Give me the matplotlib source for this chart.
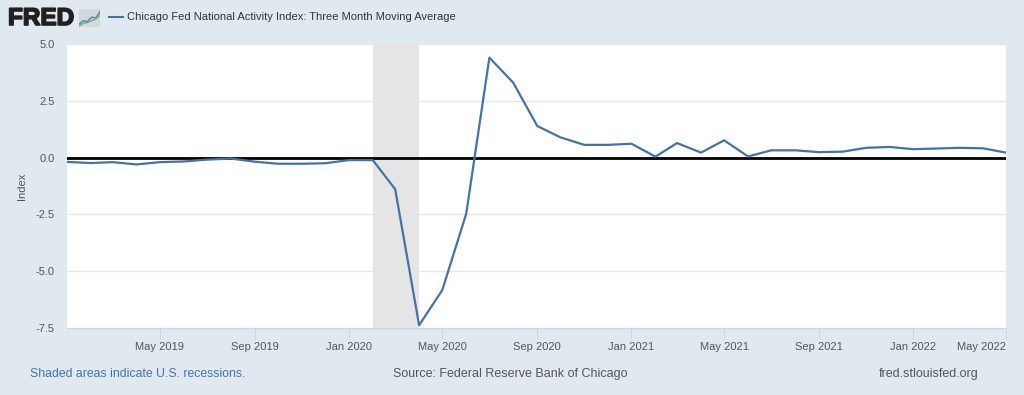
import numpy as np
import matplotlib.pyplot as plt
import matplotlib.dates as mdates
import matplotlib.patheffects as pe
from datetime import date

plt.rcParams['font.family'] = ['Liberation Sans', 'DejaVu Sans']

# monthly data, Jan 2019 .. May 2022
start_year, start_month = 2019, 1
values = [-0.19, -0.24, -0.20, -0.30, -0.20, -0.17, -0.09, -0.04, -0.18, -0.27,
          -0.27, -0.25, -0.11, -0.11, -1.39, -7.38, -5.83, -2.47, 4.40, 3.29,
          1.39, 0.89, 0.56, 0.56, 0.61, 0.04, 0.64, 0.22, 0.76, 0.05,
          0.32, 0.32, 0.24, 0.26, 0.43, 0.47, 0.37, 0.40, 0.43, 0.41, 0.22]
recession = (date(2020, 2, 1), date(2020, 4, 1))
tick_dates = [date(2019, 5, 1), date(2019, 9, 1), date(2020, 1, 1), date(2020, 5, 1),
              date(2020, 9, 1), date(2021, 1, 1), date(2021, 5, 1), date(2021, 9, 1),
              date(2022, 1, 1), date(2022, 5, 1)]
y_ticks = [-7.5, -5.0, -2.5, 0.0, 2.5, 5.0]

dates = []
for i in range(len(values)):
    m = start_month - 1 + i
    dates.append(date(start_year + m // 12, m % 12 + 1, 1))

bg = '#e1e9f0'
blue = '#4572a7'

fig = plt.figure(figsize=(10.24, 3.95), dpi=100, facecolor=bg)
ax = fig.add_axes([67 / 1024, 1 - 328 / 395, 939 / 1024, 284 / 395])
ax.set_facecolor('white')

ax.axvspan(recession[0], recession[1], color='#e5e5e5', zorder=1, lw=0)
for yt in y_ticks:
    ax.axhline(yt, color='#e6e6e6', lw=1, zorder=0)
ax.axhline(0, color='black', lw=2, zorder=2)
ax.plot(dates, values, color=blue, lw=1.6, zorder=3)

ax.set_xlim(dates[0], dates[-1])
ax.set_ylim(-7.5, 5.0)
ax.set_yticks(y_ticks)
ax.set_yticklabels(['%.1f' % v for v in y_ticks])
ax.set_xticks(tick_dates)
ax.xaxis.set_major_formatter(mdates.DateFormatter('%b %Y'))
ax.tick_params(axis='x', length=8, color='#ccd6eb', labelsize=8, labelcolor='#555555', pad=2)
ax.tick_params(axis='y', length=0, labelsize=8, labelcolor='#555555', pad=9)
ax.get_xticklabels()[-1].set_horizontalalignment('right')
for s in ['top', 'right', 'left']:
    ax.spines[s].set_visible(False)
ax.spines['bottom'].set_color('#ccd6eb')
ax.set_ylabel('Index', fontsize=8, color='#555555', labelpad=6)

# header: FRED logo
fig.text(8 / 1024, 1 - 18.5 / 395, 'FRED', fontsize=17.5, fontweight='bold', color='#231f20',
         va='center', ha='left',
         path_effects=[pe.withStroke(linewidth=1.2, foreground='#231f20')])
icon = fig.add_axes([79 / 1024, 1 - 27 / 395, 21 / 1024, 18 / 395])
icon.set_facecolor('#d3d8dc')
icon.plot([0, 0.2, 0.4, 0.6, 0.8, 1], [0.15, 0.35, 0.3, 0.55, 0.5, 0.85], color='#4d7fbf', lw=1)
icon.plot([0, 0.2, 0.4, 0.6, 0.8, 1], [0.05, 0.2, 0.25, 0.35, 0.45, 0.65], color='#7fb04d', lw=1)
icon.set_xlim(0, 1)
icon.set_ylim(0, 1)
icon.set_xticks([])
icon.set_yticks([])
for s in icon.spines.values():
    s.set_visible(False)

fig.lines.append(plt.Line2D([109 / 1024, 123 / 1024], [1 - 17 / 395, 1 - 17 / 395],
                            color=blue, lw=1.5, transform=fig.transFigure))
fig.text(127 / 1024, 1 - 17 / 395,
         'Chicago Fed National Activity Index: Three Month Moving Average',
         fontsize=8, color='#333333', va='center', ha='left')

# footer
fig.text(30 / 1024, 1 - 374 / 395, 'Shaded areas indicate U.S. recessions.',
         fontsize=8.8, color=blue, va='center', ha='left')
fig.text(510 / 1024, 1 - 374 / 395, 'Source: Federal Reserve Bank of Chicago',
         fontsize=9, color='#555555', va='center', ha='center')
fig.text(979 / 1024, 1 - 374 / 395, 'fred.stlouisfed.org',
         fontsize=9, color='#555555', va='center', ha='right')

fig.savefig('out.png', dpi=100, facecolor=bg)
